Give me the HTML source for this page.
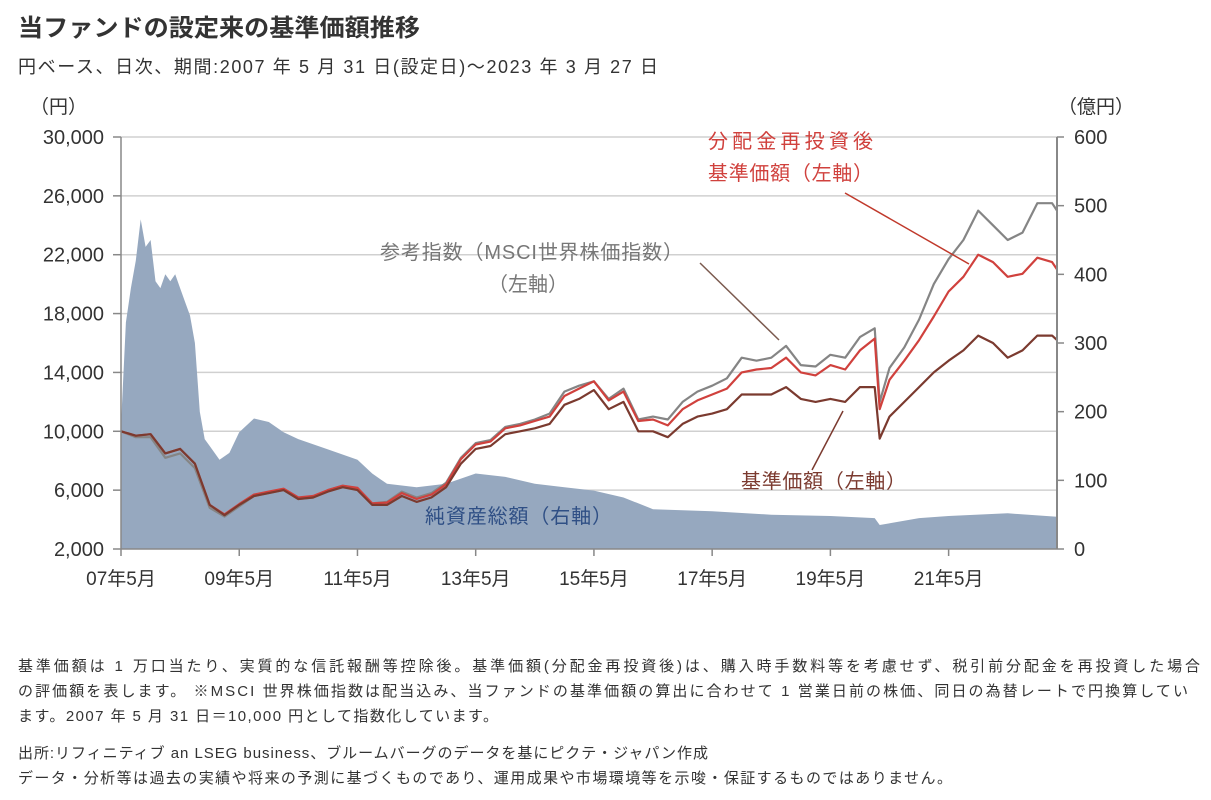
<!DOCTYPE html>
<html><head><meta charset="utf-8">
<style>
body{margin:0;background:#fff;width:1211px;height:795px;overflow:hidden;font-family:"Liberation Sans","Noto Sans CJK JP",sans-serif;}
svg text{font-family:"Liberation Sans","Noto Sans CJK JP",sans-serif;}
</style></head>
<body>
<svg width="1211" height="795" viewBox="0 0 1211 795" xmlns="http://www.w3.org/2000/svg">
<text x="18" y="36" font-size="24" font-weight="bold" fill="#333" textLength="402" lengthAdjust="spacingAndGlyphs">当ファンドの設定来の基準価額推移</text>
<text x="18" y="73" font-size="18" fill="#333" textLength="640" lengthAdjust="spacing">円ベース、日次、期間:2007 年 5 月 31 日(設定日)～2023 年 3 月 27 日</text>
<g id="grid"></g>
<g id="area"></g>
<g id="lines"></g>
<g id="axes"></g>
<g id="ann"></g>
<g font-size="15" fill="#333">
<text x="18" y="671" textLength="1182" lengthAdjust="spacing">基準価額は 1 万口当たり、実質的な信託報酬等控除後。基準価額(分配金再投資後)は、購入時手数料等を考慮せず、税引前分配金を再投資した場合</text>
<text x="18" y="696" textLength="1170" lengthAdjust="spacing">の評価額を表します。 ※MSCI 世界株価指数は配当込み、当ファンドの基準価額の算出に合わせて 1 営業日前の株価、同日の為替レートで円換算してい</text>
<text x="18" y="721" textLength="480" lengthAdjust="spacing">ます。2007 年 5 月 31 日＝10,000 円として指数化しています。</text>
<text x="18" y="758" textLength="690" lengthAdjust="spacing">出所:リフィニティブ an LSEG business、ブルームバーグのデータを基にピクテ・ジャパン作成</text>
<text x="18" y="783" textLength="934" lengthAdjust="spacing">データ・分析等は過去の実績や将来の予測に基づくものであり、運用成果や市場環境等を示唆・保証するものではありません。</text>
</g>
</svg>
<script>
const leftTicks=[2000,6000,10000,14000,18000,22000,26000,30000];
const rightTicks=[0,100,200,300,400,500,600];
const xTickLabels=["07年5月","09年5月","11年5月","13年5月","15年5月","17年5月","19年5月","21年5月"];
const xTickMonths=[0,24,48,72,96,120,144,168];
const assetMonths=[0,1,2,3,4,5,6,7,8,9,10,11,12,13,14,15,16,17,18,20,22,24,27,30,33,36,42,48,51,54,60,66,72,78,84,90,96,102,108,120,132,144,153,154,162,168,180,190];
const assetValues=[180,330,380,420,480,440,450,390,380,400,390,400,380,360,340,300,200,160,150,130,140,170,190,185,170,160,145,130,110,95,90,95,110,105,95,90,85,75,58,55,50,48,45,35,45,48,52,47];
const navMonths=[0,3,6,9,12,15,18,21,24,27,30,33,36,39,42,45,48,51,54,57,60,63,66,69,72,75,78,81,84,87,90,93,96,99,102,105,108,111,114,117,120,123,126,129,132,135,138,141,144,147,150,153,154,156,159,162,165,168,171,174,177,180,183,186,189,190];
const navValues=[10000,9700,9800,8500,8800,7800,5000,4300,5000,5600,5800,6000,5400,5500,5900,6200,6000,5000,5000,5600,5200,5500,6200,7800,8800,9000,9800,10000,10200,10500,11800,12200,12800,11500,12000,10000,10000,9600,10500,11000,11200,11500,12500,12500,12500,13000,12200,12000,12200,12000,13000,13000,9500,11000,12000,13000,14000,14800,15500,16500,16000,15000,15500,16500,16500,16200];
const reinvValues=[10000,9700,9800,8500,8800,7800,5000,4350,5050,5700,5900,6100,5500,5600,6000,6300,6150,5100,5150,5800,5400,5700,6400,8100,9100,9300,10200,10400,10700,11000,12400,12900,13400,12100,12700,10700,10800,10400,11500,12100,12500,12900,14000,14200,14300,15000,14000,13800,14500,14200,15500,16300,11500,13500,14800,16200,17800,19500,20500,22000,21500,20500,20700,21800,21500,21000];
const msciValues=[10000,9600,9600,8200,8500,7500,4800,4200,4900,5600,5800,6000,5400,5500,6000,6300,6100,5100,5200,5900,5500,5800,6500,8200,9200,9400,10300,10500,10800,11200,12700,13100,13400,12200,12900,10800,11000,10800,12000,12700,13100,13600,15000,14800,15000,15800,14500,14400,15200,15000,16400,17000,12000,14300,15700,17600,20000,21700,23000,25000,24000,23000,23500,25500,25500,25000];
const NS='http://www.w3.org/2000/svg';
const X0=121,X1=1057,YT=137,YB=549;
const xs=m=>X0+m*(X1-X0)/190;
const yl=v=>YB-(v-2000)*(YB-YT)/28000;
const yr=v=>YB-v*(YB-YT)/600;
function mk(tag,attrs,parent){const e=document.createElementNS(NS,tag);for(const k in attrs)e.setAttribute(k,attrs[k]);document.getElementById(parent).appendChild(e);return e;}
leftTicks.forEach(v=>{
  if(v>2000){const g=mk('line',{x1:X0,x2:X1,y1:yl(v),y2:yl(v),stroke:'#d0d0d0','stroke-width':1.5},'grid');
  
  }
  const t=mk('text',{x:104,y:yl(v)+7,'font-size':20,fill:'#333','text-anchor':'end'},'axes');t.textContent=v.toLocaleString('en-US');
  
  
  mk('line',{x1:113,x2:X0,y1:yl(v),y2:yl(v),stroke:'#888','stroke-width':1.5},'axes');
});
rightTicks.forEach(v=>{
  const t=mk('text',{x:1074,y:yr(v)+7,'font-size':20,fill:'#333'},'axes');t.textContent=v;
  
  
  mk('line',{x1:X1,x2:X1+7,y1:yr(v),y2:yr(v),stroke:'#888','stroke-width':1.5},'axes');
});
xTickMonths.forEach((m,i)=>{
  const t=mk('text',{x:xs(m),y:585,'font-size':19,fill:'#333','text-anchor':'middle'},'axes');t.textContent=xTickLabels[i];
  
  
  mk('line',{x1:xs(m),x2:xs(m),y1:YB,y2:YB+7,stroke:'#888','stroke-width':1.5},'axes');
});
let d='M'+xs(0)+','+YB;
assetMonths.forEach((m,i)=>{d+=' L'+xs(m).toFixed(1)+','+yr(assetValues[i]).toFixed(1);});
d+=' L'+xs(190)+','+YB+' Z';
const a=mk('path',{d:d,fill:'#96a8bf'},'area');


function line(vals,color,name){
  const p=mk('path',{d:navMonths.map((m,i)=>(i?'L':'M')+xs(m).toFixed(1)+','+yl(vals[i]).toFixed(1)).join(' '),fill:'none',stroke:color,'stroke-width':2.2,'stroke-linejoin':'round'},'lines');
  
  
}
line(msciValues,'#858585','msci-line');
line(reinvValues,'#d0413d','reinvested-nav-line');
line(navValues,'#7b3a2f','nav-line');
[['line',{x1:X0,x2:X0,y1:YT,y2:YB,stroke:'#888','stroke-width':1.5}],['line',{x1:X1,x2:X1,y1:YT,y2:YB,stroke:'#888','stroke-width':2}],['line',{x1:X0,x2:X1,y1:YB,y2:YB,stroke:'#888','stroke-width':1.5}]].forEach(([t,at])=>mk(t,at,'axes'));
function txt(x,y,s,c,name,size,len){const at={x:x,y:y,'font-size':size||19,fill:c};if(len){at.textLength=len;at.lengthAdjust='spacing';}
  const t=mk('text',at,'ann');t.textContent=s;
  
  }
txt(30,113,'（円）','#333','left-axis-unit',19);
txt(1058,113,'（億円）','#333','right-axis-unit',19);
txt(708,148,'分配金再投資後','#d0413d','reinvested-label',20,165);
txt(708,180,'基準価額（左軸）','#d0413d','reinvested-label-2',20,165);
txt(380,259,'参考指数（MSCI世界株価指数）','#777','msci-label',20,303);
txt(488,291,'（左軸）','#777','msci-label-2',20,80);
txt(741,488,'基準価額（左軸）','#7b3a2f','nav-label',20,165);
txt(425,523,'純資産総額（右軸）','#2f4f85','net-assets-label',20,187);
mk('line',{x1:845,y1:193,x2:969,y2:264,stroke:'#c0392b','stroke-width':1.5},'ann');
mk('line',{x1:700,y1:263,x2:779,y2:340,stroke:'#7b5a4f','stroke-width':1.5},'ann');
mk('line',{x1:812,y1:470,x2:843,y2:411,stroke:'#7b3a2f','stroke-width':1.5},'ann');
</script>
</body></html>
